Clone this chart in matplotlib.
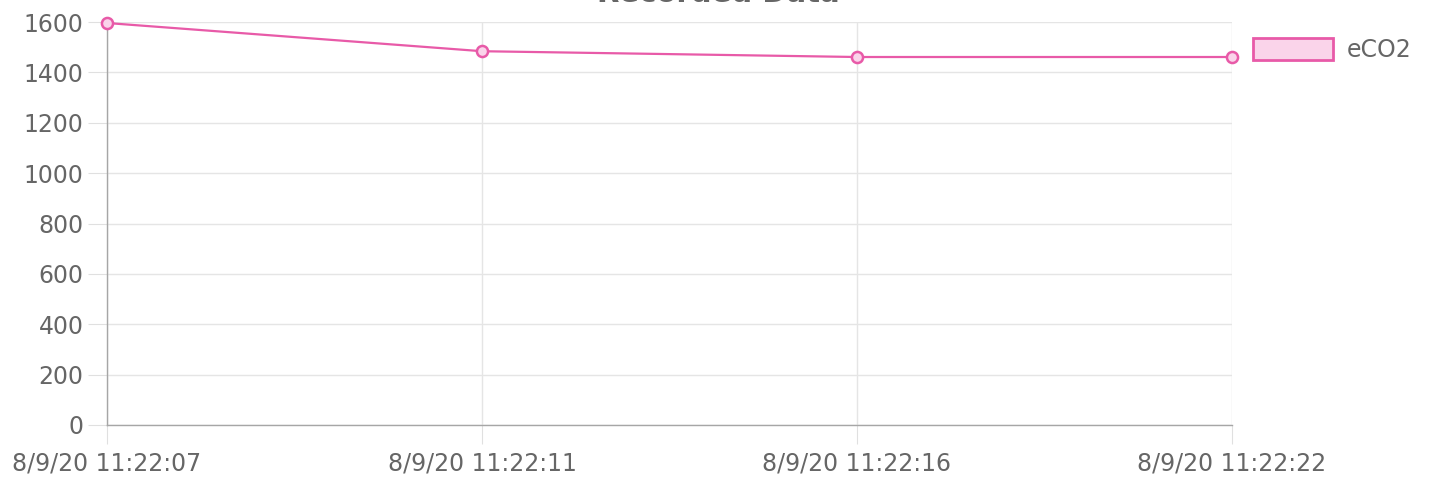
import matplotlib.pyplot as plt
from matplotlib.patches import Patch

# Recorded sensor readings
timestamps = ["8/9/20 11:22:07", "8/9/20 11:22:11", "8/9/20 11:22:16", "8/9/20 11:22:22"]
eco2 = [1596, 1484, 1461, 1461]
y_ticks = [0, 200, 400, 600, 800, 1000, 1200, 1400, 1600]

line_color = "#e85aa8"
fill_color = "#fad4ea"
text_color = "#666666"

fig = plt.figure(figsize=(14.34, 4.78), dpi=100)
ax = fig.add_axes([107 / 1434, 1 - 425 / 478, 1125 / 1434, 403 / 478])

x = list(range(len(timestamps)))
ax.plot(x, eco2, color=line_color, linewidth=1.6, marker="o", markersize=8,
        markerfacecolor=fill_color, markeredgecolor=line_color, markeredgewidth=1.8,
        clip_on=False, zorder=3)

ax.set_xlim(0, len(timestamps) - 1)
ax.set_ylim(0, 1600)
ax.set_xticks(x)
ax.set_xticklabels(timestamps)
ax.set_yticks(y_ticks)

# Grid and axes styling
ax.grid(True, color="#e5e5e5", linewidth=1)
ax.set_axisbelow(True)
for side in ["top", "right"]:
    ax.spines[side].set_visible(False)
for side in ["left", "bottom"]:
    ax.spines[side].set_color("#a6a6a6")
    ax.spines[side].set_linewidth(1)
ax.tick_params(axis="both", colors="#e0e0e0", labelcolor=text_color, labelsize=17, length=14)
ax.tick_params(axis="x", pad=5)
ax.tick_params(axis="y", pad=3)

# Title (mostly cut off at the top of the image, as in the original)
fig.text(0.5007, 1 - 2 / 478, "Recorded Data", ha="center", va="baseline",
         fontsize=21, fontweight="bold", color=text_color)

# Legend
handle = Patch(facecolor=fill_color, edgecolor=line_color, linewidth=2, label="eCO2")
ax.legend(handles=[handle], loc="upper left", bbox_to_anchor=(1.0187, 0.96),
          frameon=False, borderpad=0, borderaxespad=0, handlelength=3.4,
          handleheight=1.05, handletextpad=0.55, fontsize=17, labelcolor=text_color)

fig.savefig("out.png", dpi=100)
